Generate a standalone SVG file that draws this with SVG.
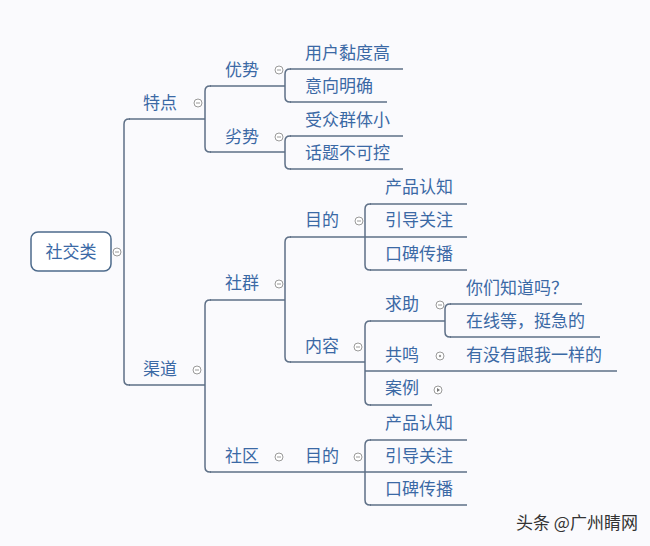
<svg xmlns="http://www.w3.org/2000/svg" width="650" height="546" viewBox="0 0 650 546">
<style>
text{font-family:"Noto Sans CJK SC","Noto Sans",sans-serif;font-size:17px;fill:#3b69a5}
.u{stroke:#5d6f86;stroke-width:1.5;fill:none}
.c{stroke:#5d6f86;stroke-width:1.5;fill:none}
.k{fill:#fff;stroke:#9a9a9a;stroke-width:1}
.m{stroke:#9a9a9a;stroke-width:1}
.wm{font-size:17px;fill:#333}
</style>
<rect width="650" height="546" fill="#fafafd"/>
<g id="connectors">
<path class="c" d="M130,119 H129 Q124,119 124,124 V380 Q124,385 129,385 H130"/>
<path class="c" d="M211,86 H210 Q205,86 205,91 V147 Q205,152 210,152 H211"/>
<path class="c" d="M291,69 H290 Q285,69 285,74 V97 Q285,102 290,102 H291"/>
<path class="c" d="M291,136 H290 Q285,136 285,141 V164 Q285,169 290,169 H291"/>
<path class="c" d="M211,300 H210 Q205,300 205,305 V467 Q205,472 210,472 H211"/>
<path class="c" d="M291,237 H290 Q285,237 285,242 V357 Q285,362 290,362 H291"/>
<path class="c" d="M371,204 H370 Q365,204 365,209 V265 Q365,270 370,270 H371"/>
<path class="c" d="M371,321 H370 Q365,321 365,326 V400 Q365,405 370,405 H371"/>
<path class="c" d="M451,304 H450 Q445,304 445,309 V332 Q445,337 450,337 H451"/>
<path class="c" d="M371,440 H370 Q365,440 365,445 V500 Q365,505 370,505 H371"/>
</g>
<g id="root">
<rect x="31" y="232" width="80" height="39" rx="7" fill="#fff" stroke="#4d6b8c" stroke-width="1.5"/>
<text x="71" y="258" text-anchor="middle">社交类</text>
<circle class="k" cx="117" cy="252" r="4"/><line class="m" x1="115" y1="252" x2="119" y2="252"/>
</g>
<g id="n-tedian">
<path class="u" d="M129,119 H205"/>
<text x="143" y="109">特点</text>
<circle class="k" cx="198" cy="103" r="4"/><line class="m" x1="196" y1="103" x2="200" y2="103"/>
</g>
<g id="n-youshi">
<path class="u" d="M210,86 H285"/>
<text x="225" y="76">优势</text>
<circle class="k" cx="279" cy="70" r="4"/><line class="m" x1="277" y1="70" x2="281" y2="70"/>
</g>
<g id="n-lieshi">
<path class="u" d="M210,152 H285"/>
<text x="225" y="143">劣势</text>
<circle class="k" cx="279" cy="137" r="4"/><line class="m" x1="277" y1="137" x2="281" y2="137"/>
</g>
<g id="n-yonghu"><path class="u" d="M290,69 H403"/><text x="305" y="59">用户黏度高</text></g>
<g id="n-yixiang"><path class="u" d="M290,102 H387"/><text x="305" y="92">意向明确</text></g>
<g id="n-shouzhong"><path class="u" d="M290,136 H403"/><text x="305" y="126">受众群体小</text></g>
<g id="n-huati"><path class="u" d="M290,169 H403"/><text x="305" y="159">话题不可控</text></g>
<g id="n-qudao">
<path class="u" d="M129,385 H205"/>
<text x="143" y="375">渠道</text>
<circle class="k" cx="197" cy="370" r="4"/><line class="m" x1="195" y1="370" x2="199" y2="370"/>
</g>
<g id="n-shequn">
<path class="u" d="M210,300 H285"/>
<text x="225" y="289">社群</text>
<circle class="k" cx="279" cy="284" r="4"/><line class="m" x1="277" y1="284" x2="281" y2="284"/>
</g>
<g id="n-mudi1">
<path class="u" d="M290,237 H365"/>
<text x="305" y="226">目的</text>
<circle class="k" cx="359" cy="221" r="4"/><line class="m" x1="357" y1="221" x2="361" y2="221"/>
</g>
<g id="n-chanpin1"><path class="u" d="M370,204 H467"/><text x="385" y="193">产品认知</text></g>
<g id="n-yindao1"><path class="u" d="M365,237 H467"/><text x="385" y="226">引导关注</text></g>
<g id="n-koubei1"><path class="u" d="M370,270 H467"/><text x="385" y="260">口碑传播</text></g>
<g id="n-neirong">
<path class="u" d="M290,362 H365"/>
<text x="305" y="352">内容</text>
<circle class="k" cx="358" cy="347" r="4"/><line class="m" x1="356" y1="347" x2="360" y2="347"/>
</g>
<g id="n-qiuzhu">
<path class="u" d="M370,321 H445"/>
<text x="385" y="310">求助</text>
<circle class="k" cx="440" cy="305" r="4"/><line class="m" x1="438" y1="305" x2="442" y2="305"/>
</g>
<g id="n-nimen"><path class="u" d="M450,304 H582"/><text x="466" y="294">你们知道吗？</text></g>
<g id="n-zaixian"><path class="u" d="M450,337 H600"/><text x="466" y="327">在线等，挺急的</text></g>
<g id="n-gongming">
<path class="u" d="M365,371 H450"/>
<text x="385" y="361">共鸣</text>
<circle class="k" cx="440" cy="356" r="4"/><circle cx="440" cy="356" r="1.2" fill="#9a9a9a"/>
</g>
<g id="n-youmeiyou"><path class="u" d="M450,371 H617"/><text x="466" y="361">有没有跟我一样的</text></g>
<g id="n-anli">
<path class="u" d="M370,405 H432"/>
<text x="385" y="394">案例</text>
<circle class="k" cx="438" cy="390" r="4"/><path d="M437,388 L440,390 L437,392Z" fill="#777"/>
</g>
<g id="n-shequ">
<path class="u" d="M210,472 H285"/>
<text x="225" y="462">社区</text>
<circle class="k" cx="279" cy="457" r="4"/><line class="m" x1="277" y1="457" x2="281" y2="457"/>
</g>
<g id="n-mudi2">
<path class="u" d="M285,472 H365"/>
<text x="305" y="462">目的</text>
<circle class="k" cx="358" cy="457" r="4"/><line class="m" x1="356" y1="457" x2="360" y2="457"/>
</g>
<g id="n-chanpin2"><path class="u" d="M370,440 H467"/><text x="385" y="429">产品认知</text></g>
<g id="n-yindao2"><path class="u" d="M365,472 H467"/><text x="385" y="462">引导关注</text></g>
<g id="n-koubei2"><path class="u" d="M370,505 H467"/><text x="385" y="495">口碑传播</text></g>
<text class="wm" x="516" y="529">头条 @广州睛网</text>
</svg>
